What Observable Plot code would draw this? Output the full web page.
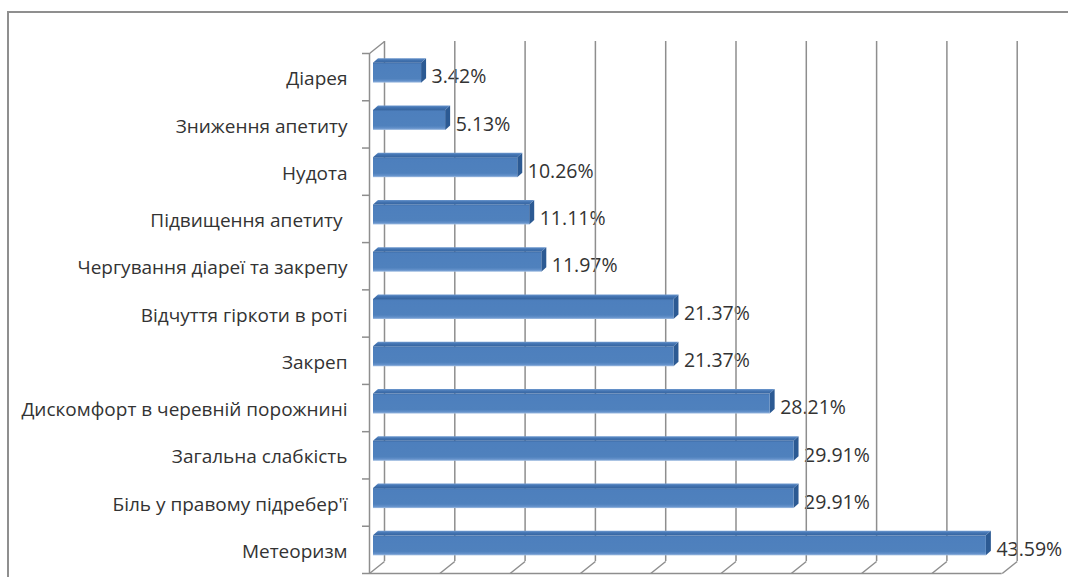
<!DOCTYPE html>
<html><head><meta charset="utf-8">
<script src="https://cdn.jsdelivr.net/npm/d3@7"></script>
<script src="https://cdn.jsdelivr.net/npm/@observablehq/plot@0.6"></script>
<style>
body{margin:0;background:#fff;}
#wrap{position:relative;width:1068px;height:577px;overflow:hidden;}
#wrap::before{content:"";position:absolute;left:7px;top:11px;right:-10px;bottom:-10px;border-left:2px solid #8f8f8f;border-top:2px solid #8f8f8f;pointer-events:none;}
svg text{white-space:pre;}
</style></head><body><div id="wrap"></div>
<script>
const categories = ["Діарея","Зниження апетиту","Нудота","Підвищення апетиту ","Чергування діареї та закрепу","Відчуття гіркоти в роті","Закреп","Дискомфорт в черевній порожнині","Загальна слабкість","Біль у правому підребер'ї","Метеоризм"];
const values = [3.42, 5.13, 10.26, 11.11, 11.97, 21.37, 21.37, 28.21, 29.91, 29.91, 43.59];
const valueLabels = ["3.42%","5.13%","10.26%","11.11%","11.97%","21.37%","21.37%","28.21%","29.91%","29.91%","43.59%"];
const xTicks = [0,5,10,15,20,25,30,35,40,45];

const W = 1068, H = 577, mL = 369, mR = 66.3, mT = 53, mB = 4;
const pxX = (W - mL - mR) / 45;
const pxY = (H - mT - mB) / 11;
const wallDX = 15, wallDY = 12;      // depth of back wall, px
const barDX = 5, barDY = 4.5;        // depth of bars, px
const barOffX = 4, barOffY = -4;     // bar front plane offset, px
const hh = 10 / pxY;                 // half bar height in y units

const rows = categories.map((c, i) => ({c, i, v: values[i], label: valueLabels[i]}));
const topPts = rows.flatMap(r => [
  {i: r.i, y: r.i - hh, x1: 0, x2: r.v},
  {i: r.i, y: r.i - hh - barDY / pxY, x1: barDX / pxX, x2: r.v + barDX / pxX}
]);
const sidePts = rows.flatMap(r => [
  {i: r.i, x: r.v, y1: r.i + hh, y2: r.i - hh},
  {i: r.i, x: r.v + barDX / pxX, y1: r.i + hh - barDY / pxY, y2: r.i - hh - barDY / pxY}
]);
const grid = "#8e8e8e";
const txt = "#333333";
const font = "'Open Sans', sans-serif";

const chart = Plot.plot({
  width: W, height: H,
  marginLeft: mL, marginRight: mR, marginTop: mT, marginBottom: mB,
  style: {fontFamily: font, background: "transparent", overflow: "visible"},
  x: {domain: [0, 45], axis: null},
  y: {domain: [-0.5, 10.5], reverse: true, axis: null},
  marks: [
    Plot.axisY({ticks: d3.range(11), tickFormat: i => categories[i], tickSize: 0, tickPadding: 22, fontSize: 19, fill: txt, label: null, dy: 2}),
    Plot.text(rows, {x: "v", y: "i", text: "label", dx: barOffX + 10, dy: 0, textAnchor: "start", fontSize: 19.5, fill: txt, fontFamily: font}),
    Plot.ruleX(xTicks, {x: d => d, y1: -0.5, y2: 10.5, dx: wallDX, dy: -wallDY, stroke: grid, strokeWidth: 1.5}),
    Plot.link(xTicks, {x1: d => d, y1: 10.5, x2: d => d + wallDX / pxX, y2: 10.5 - wallDY / pxY, stroke: grid, strokeWidth: 1.5}),
    Plot.link([0], {x1: 0, y1: -0.5, x2: wallDX / pxX, y2: -0.5 - wallDY / pxY, stroke: grid, strokeWidth: 1.5}),
    Plot.ruleY([10.5], {x1: 0, x2: 45, stroke: grid, strokeWidth: 1.5}),
    Plot.ruleX([0], {y1: -0.5, y2: 10.5, stroke: grid, strokeWidth: 1.5}),
    Plot.ruleY(d3.range(12).map(k => k - 0.5), {x1: -7 / pxX, x2: 0, stroke: grid, strokeWidth: 1.5}),
    Plot.areaY(sidePts, {x: "x", y1: "y1", y2: "y2", z: "i", fill: "#2c5a93", dx: barOffX, dy: barOffY, curve: "linear"}),
    Plot.areaX(topPts, {y: "y", x1: "x1", x2: "x2", z: "i", fill: "url(#barTop)", dx: barOffX, dy: barOffY, curve: "linear"}),
    Plot.rect(rows, {x1: 0, x2: "v", y1: d => d.i - hh, y2: d => d.i + hh, fill: "url(#barFront)", dx: barOffX, dy: barOffY})
  ]
});

const defs = d3.select(chart).insert("defs", ":first-child");
const gf = defs.append("linearGradient").attr("id", "barFront").attr("x1", 0).attr("y1", 0).attr("x2", 0).attr("y2", 1);
[[0, "#3f6ea9"], [0.08, "#4d7fbd"], [0.8, "#4f81bd"], [0.92, "#6592cb"], [1, "#a3bfe2"]].forEach(([o, c]) => gf.append("stop").attr("offset", o).attr("stop-color", c));
const gt = defs.append("linearGradient").attr("id", "barTop").attr("x1", 0).attr("y1", 0).attr("x2", 0).attr("y2", 1);
[[0, "#6d98ce"], [0.4, "#4576b4"], [1, "#36649f"]].forEach(([o, c]) => gt.append("stop").attr("offset", o).attr("stop-color", c));

document.getElementById("wrap").appendChild(chart);
</script></body></html>
